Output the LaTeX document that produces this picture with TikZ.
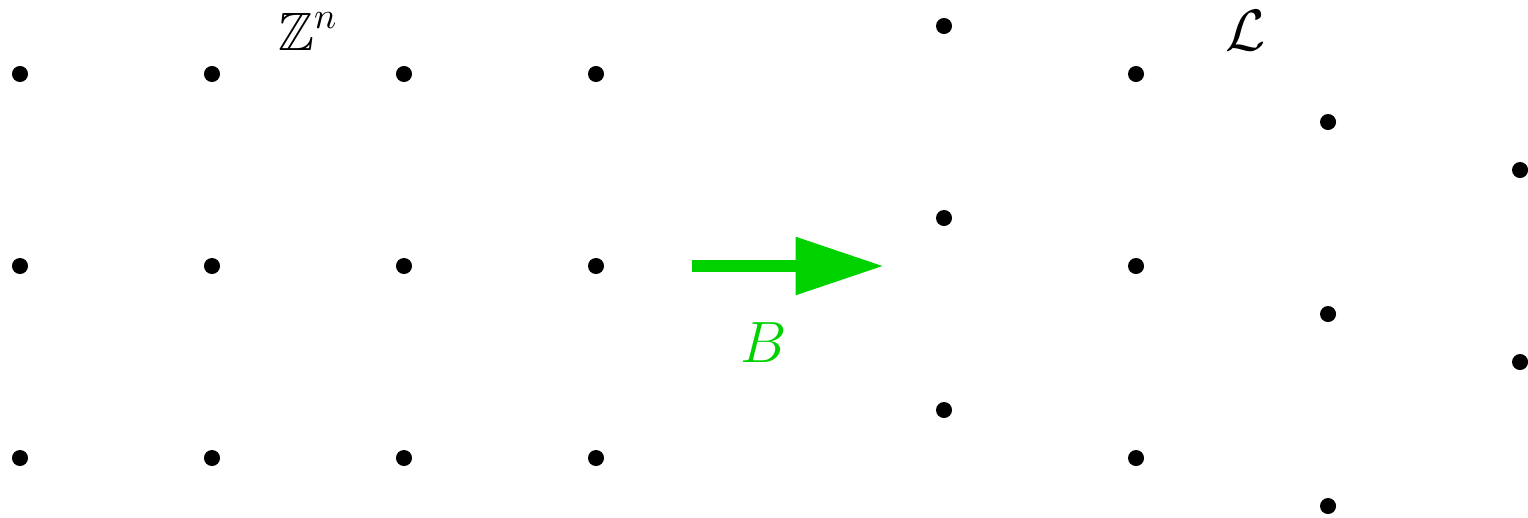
\documentclass[tikz,border=0pt]{standalone}
\usepackage{amsmath}
\usepackage{amssymb}
\usepackage{xcolor}
\usepackage{tikz}
\usetikzlibrary{arrows.meta, positioning}
\definecolor{mapgreen}{RGB}{0,210,0}
\tikzset{
  latpt/.style={circle,fill=black,inner sep=0pt,minimum size=1.67mm},
  lbl/.style={anchor=base,inner sep=0pt,font=\fontsize{16pt}{19pt}\selectfont},
  maparrow/.style={-{Triangle[length=9.2mm,width=5.7mm]}, line width=3.8pt, color=mapgreen}
}

\begin{document}
\begin{tikzpicture}
  \useasboundingbox (-0.2083,-0.6146) rectangle (15.708,4.771);
  % integer lattice
  \foreach \i in {0,...,3}
    \foreach \j in {0,...,2}
      \node[latpt] (z\i\j) at (2*\i,2*\j) {};
  \node[lbl] (Zn) at (3.0,4.25) {$\mathbb{Z}^n$};
  % image lattice
  \foreach \i in {0,...,2}
    \foreach \j in {0,...,2}
      \node[latpt] (l\i\j) at (9.625+2*\i,0.5-0.5*\i+2*\j) {};
  \node[latpt] (l30) at (15.625,1) {};
  \node[latpt] (l31) at (15.625,3) {};
  \node[lbl] (Lat) at (12.77,4.25) {$\mathcal{L}$};
  % the map
  \coordinate (Bfrom) at (7,2);
  \coordinate (Bto) at (9,2);
  \draw[maparrow] (Bfrom) -- (Bto);
  \node[lbl, text=mapgreen] (Blbl) at (7.75,1.0) {$B$};
\end{tikzpicture}
\end{document}
